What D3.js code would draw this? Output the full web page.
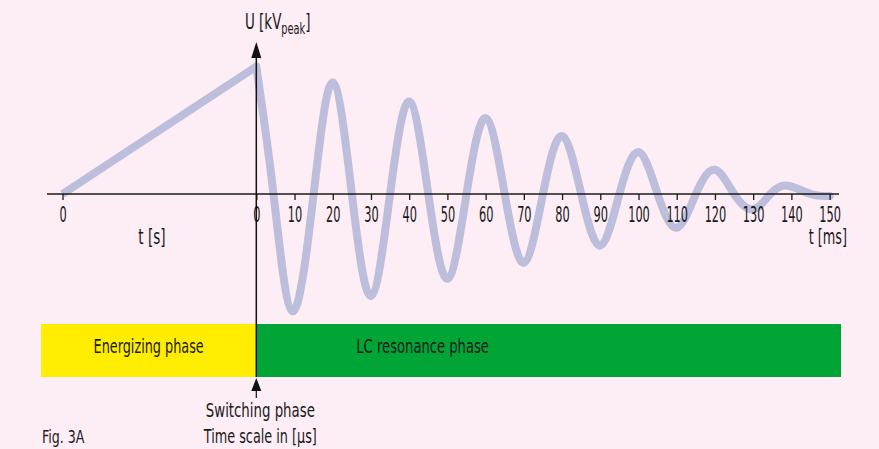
<!DOCTYPE html>
<html>
<head>
<meta charset="utf-8">
<script src="https://cdn.jsdelivr.net/npm/d3@7"></script>
<style>
  body { margin: 0; background: #fdedf5; }
  svg { display: block; }
  text { font-family: "Liberation Sans Narrow", "DejaVu Sans Condensed", sans-serif; fill: #1a1a1a; }
</style>
</head>
<body>
<div id="chart"></div>
<script>
// energizing phase: linear charge (seconds), U in % of peak
const rampTime = [0, 1];
const rampU = [0, 100];

// LC resonance phase: damped ringing (ms), U in % of peak (extrema and zero crossings)
const ringTime = [0, 4.5, 9.5, 15, 20, 25, 30, 35, 40, 45, 50, 55, 60, 65, 70, 75,
  80, 85, 90, 95, 100, 105, 110, 115, 120, 125, 130, 134.5, 139, 145, 150];
const ringU = [100, 0, -92, 0, 87.5, 0, -80, 0, 72.5, 0, -66.5, 0, 59.5, 0, -54, 0,
  45.5, 0, -40.5, 0, 33, 0, -26.5, 0, 19, 0, -12, 0, 6.5, 0, -1.5];

const msTicks = [0, 10, 20, 30, 40, 50, 60, 70, 80, 90, 100, 110, 120, 130, 140, 150];
const sTicks = [0];
const phaseNames = ["Energizing phase", "LC resonance phase"];
const phaseColors = ["#ffed00", "#00a536"];

const W = 879, H = 449;
const waveColor = "#bdbddc";
const ink = "#1a1a1a";

const svg = d3.select("#chart").append("svg")
  .attr("width", W)
  .attr("height", H);

svg.append("rect").attr("width", W).attr("height", H).attr("fill", "#fdedf5");

const xS = d3.scaleLinear().domain([0, 1]).range([62.5, 256.3]);
const xMs = d3.scaleLinear().domain([0, 150]).range([256.3, 829.6]);
const y = d3.scaleLinear().domain([0, 100]).range([194, 66.5]);
const x0 = xMs(0);

// phase bars
const barTop = 324, barBottom = 377;
const barEdges = [41, x0, 841];
svg.selectAll(".phase")
  .data(phaseNames)
  .join("rect")
  .attr("class", "phase")
  .attr("x", (d, i) => barEdges[i])
  .attr("y", barTop)
  .attr("width", (d, i) => barEdges[i + 1] - barEdges[i])
  .attr("height", barBottom - barTop)
  .attr("fill", (d, i) => phaseColors[i]);

// the original uses a narrow DIN-like face, so squeeze the fallback font
function label(x, yy, txt, anchor, size, sx) {
  return svg.append("text")
    .attr("transform", `translate(${x},${yy}) scale(${sx},1)`)
    .attr("text-anchor", anchor)
    .style("font-size", size + "px")
    .text(txt);
}

label((barEdges[0] + barEdges[1]) / 2, 353, phaseNames[0], "middle", 19, 0.75);
label(x0 + 100, 353, phaseNames[1], "start", 19, 0.77);

// waveform
const ramp = rampTime.map((t, i) => [xS(t), y(rampU[i])]);
const ring = ringTime.map((t, i) => [xMs(t), y(ringU[i])]);

svg.append("path")
  .attr("d", d3.line()(ramp))
  .attr("fill", "none")
  .attr("stroke", waveColor)
  .attr("stroke-width", 8);

svg.append("path")
  .attr("d", d3.line().curve(d3.curveNatural)(ring))
  .attr("fill", "none")
  .attr("stroke", waveColor)
  .attr("stroke-width", 8)
  .attr("stroke-linecap", "round");

// horizontal axis
svg.append("line")
  .attr("x1", 47).attr("x2", 839)
  .attr("y1", y(0)).attr("y2", y(0))
  .attr("stroke", ink).attr("stroke-width", 1.4);

function ticks(g, scale, values) {
  g.attr("transform", `translate(0,${y(0)})`)
    .call(d3.axisBottom(scale).tickValues(values).tickSize(6).tickPadding(7.5).tickFormat(d3.format("d")))
    .call(g => g.select(".domain").remove())
    .call(g => g.selectAll("line").attr("stroke", ink).attr("stroke-width", 1.3))
    .call(g => g.selectAll("text")
      .attr("fill", ink)
      .attr("transform", "scale(0.6,1)")
      .style("font-size", "21px")
      .style("font-family", '"Liberation Sans Narrow", "DejaVu Sans Condensed", sans-serif'));
}
svg.append("g").call(ticks, xS, sTicks);
svg.append("g").call(ticks, xMs, msTicks);

label(152, 244, "t [s]", "middle", 21, 0.72);
label(847, 244, "t [ms]", "end", 21, 0.68);

// vertical axis with arrow
svg.append("line")
  .attr("x1", x0).attr("x2", x0)
  .attr("y1", 55).attr("y2", barBottom)
  .attr("stroke", "#111").attr("stroke-width", 1.5);
svg.append("path")
  .attr("d", `M${x0},42 L${x0 - 5},58 L${x0 + 5},58 Z`)
  .attr("fill", "#111");

// switching marker below bar
svg.append("path")
  .attr("d", `M${x0},378 L${x0 - 5},391 L${x0 + 5},391 Z`)
  .attr("fill", "#111");
svg.append("line")
  .attr("x1", x0).attr("x2", x0)
  .attr("y1", 390).attr("y2", 398)
  .attr("stroke", "#111").attr("stroke-width", 1.2);

const uLabel = svg.append("text")
  .attr("transform", "translate(245,29) scale(0.68,1)")
  .style("font-size", "22px");
uLabel.append("tspan").text("U [kV");
uLabel.append("tspan").attr("dy", 5).style("font-size", "16px").text("peak");
uLabel.append("tspan").attr("dy", -5).text("]");

label(x0 + 4, 417, "Switching phase", "middle", 19, 0.78);
label(x0 + 4, 443, "Time scale in [µs]", "middle", 19, 0.75);
label(42, 443, "Fig. 3A", "start", 18, 0.78);
</script>
</body>
</html>
